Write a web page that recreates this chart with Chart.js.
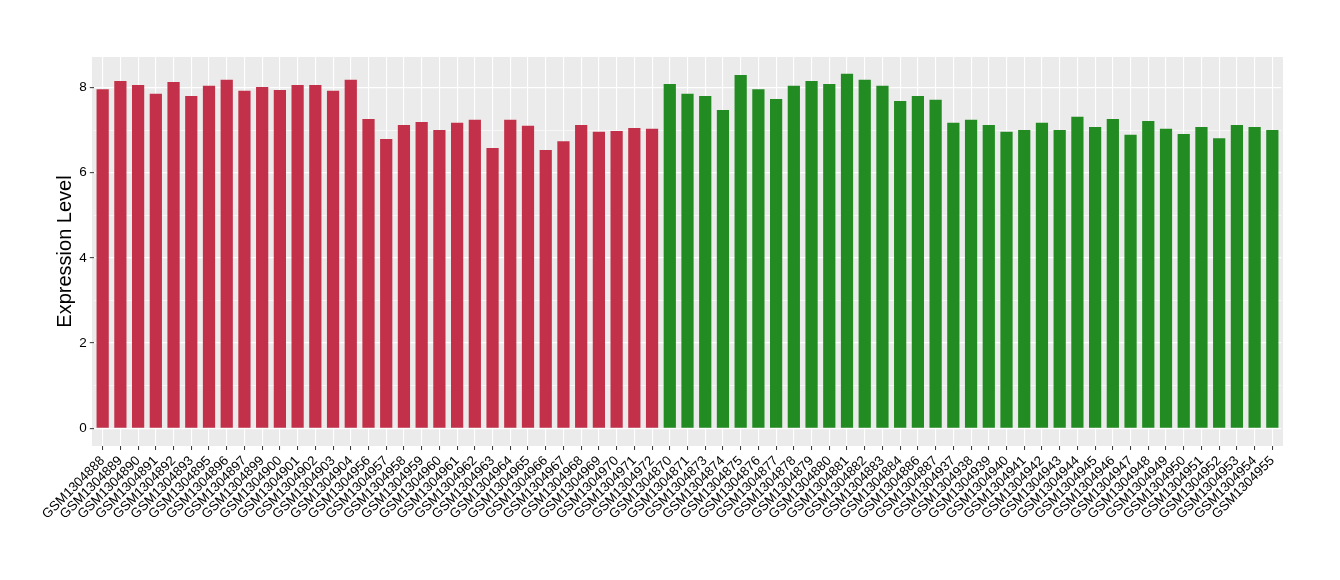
<!DOCTYPE html>
<html>
<head>
<meta charset="utf-8">
<script src="https://cdn.jsdelivr.net/npm/chart.js@4"></script>
<style>
  html, body { margin: 0; padding: 0; background: #ffffff; }
  #wrap { width: 1340px; height: 580px; }
</style>
</head>
<body>
<div id="wrap"><canvas id="c" width="1340" height="580"></canvas></div>
<script>
const categories = [
  'GSM1304888','GSM1304889','GSM1304890','GSM1304891','GSM1304892','GSM1304893','GSM1304895','GSM1304896',
  'GSM1304897','GSM1304899','GSM1304900','GSM1304901','GSM1304902','GSM1304903','GSM1304904','GSM1304956',
  'GSM1304957','GSM1304958','GSM1304959','GSM1304960','GSM1304961','GSM1304962','GSM1304963','GSM1304964',
  'GSM1304965','GSM1304966','GSM1304967','GSM1304968','GSM1304969','GSM1304970','GSM1304971','GSM1304972',
  'GSM1304870','GSM1304871','GSM1304873','GSM1304874','GSM1304875','GSM1304876','GSM1304877','GSM1304878',
  'GSM1304879','GSM1304880','GSM1304881','GSM1304882','GSM1304883','GSM1304884','GSM1304886','GSM1304887',
  'GSM1304937','GSM1304938','GSM1304939','GSM1304940','GSM1304941','GSM1304942','GSM1304943','GSM1304944',
  'GSM1304945','GSM1304946','GSM1304947','GSM1304948','GSM1304949','GSM1304950','GSM1304951','GSM1304952',
  'GSM1304953','GSM1304954','GSM1304955'
];
const expression = [
  7.96, 8.15, 8.06, 7.85, 8.13, 7.80, 8.04, 8.18,
  7.92, 8.01, 7.94, 8.06, 8.06, 7.92, 8.18, 7.26,
  6.79, 7.12, 7.19, 7.00, 7.17, 7.24, 6.58, 7.24,
  7.10, 6.53, 6.74, 7.12, 6.96, 6.98, 7.05, 7.03,
  8.08, 7.85, 7.80, 7.47, 8.29, 7.96, 7.73, 8.04,
  8.15, 8.08, 8.32, 8.18, 8.04, 7.68, 7.80, 7.71,
  7.17, 7.24, 7.12, 6.96, 7.00, 7.17, 7.00, 7.31,
  7.07, 7.26, 6.89, 7.21, 7.03, 6.91, 7.07, 6.81,
  7.12, 7.07, 7.00
];
const groupSizes = [32, 35];
const yTickValues = [0, 2, 4, 6, 8];
const yMinorValues = [1, 3, 5, 7];

const groupColors = ['#C23149', '#228B22'];
function groupOf(i) { return i < groupSizes[0] ? 0 : 1; }

const panelBg = {
  id: 'panelBg',
  beforeDraw(chart) {
    const a = chart.chartArea;
    const unit = (a.right - a.left) / categories.length;
    const ctx = chart.ctx;
    ctx.save();
    ctx.fillStyle = '#EBEBEB';
    ctx.fillRect(a.left - 0.1 * unit, a.top, (a.right - a.left) + 0.2 * unit, a.bottom - a.top);
    ctx.restore();
  }
};

const yMin = -0.415, yMax = 8.715;
const fontFamily = '"Liberation Sans", Arial, Helvetica, sans-serif';

new Chart(document.getElementById('c'), {
  type: 'bar',
  data: {
    labels: categories,
    datasets: [{
      data: expression,
      backgroundColor: expression.map((v, i) => groupColors[groupOf(i)]),
      borderWidth: 0,
      categoryPercentage: 1.0,
      barPercentage: 0.69
    }]
  },
  plugins: [panelBg],
  options: {
    responsive: false,
    devicePixelRatio: 1,
    animation: false,
    layout: { padding: { top: 57, right: 58.8, left: 0, bottom: 0 } },
    plugins: { legend: { display: false }, tooltip: { enabled: false } },
    scales: {
      x: {
        type: 'category',
        offset: true,
        border: { display: false },
        grid: {
          offset: false,
          color: '#FFFFFF',
          lineWidth: 1.1,
          drawTicks: true,
          tickLength: 4,
          tickColor: '#333333',
          tickWidth: 1
        },
        ticks: {
          autoSkip: false,
          minRotation: 45,
          maxRotation: 45,
          padding: 3,
          color: '#000000',
          font: { family: fontFamily, size: 13.3 }
        },
        afterFit(scale) { scale.height = 134; }
      },
      y: {
        min: yMin,
        max: yMax,
        border: { display: false },
        afterBuildTicks(scale) {
          const all = yTickValues.concat(yMinorValues).sort((a, b) => a - b);
          scale.ticks = all.map(v => ({ value: v }));
        },
        grid: {
          color: '#FFFFFF',
          lineWidth: ctx => (ctx.tick && yTickValues.includes(ctx.tick.value)) ? 1.3 : 0.6,
          tickColor: ctx => (ctx.tick && yTickValues.includes(ctx.tick.value)) ? '#333333' : 'rgba(0,0,0,0)',
          tickLength: 4,
          tickWidth: 1
        },
        ticks: {
          padding: 3,
          color: '#000000',
          font: { family: fontFamily, size: 13.5 },
          callback: v => yTickValues.includes(v) ? String(v) : ''
        },
        title: {
          display: true,
          text: 'Expression Level',
          color: '#000000',
          font: { family: fontFamily, size: 20 },
          padding: { top: 53, bottom: 0 }
        },
        afterFit(scale) { scale.width = 93.8; }
      }
    }
  }
});
</script>
</body>
</html>
